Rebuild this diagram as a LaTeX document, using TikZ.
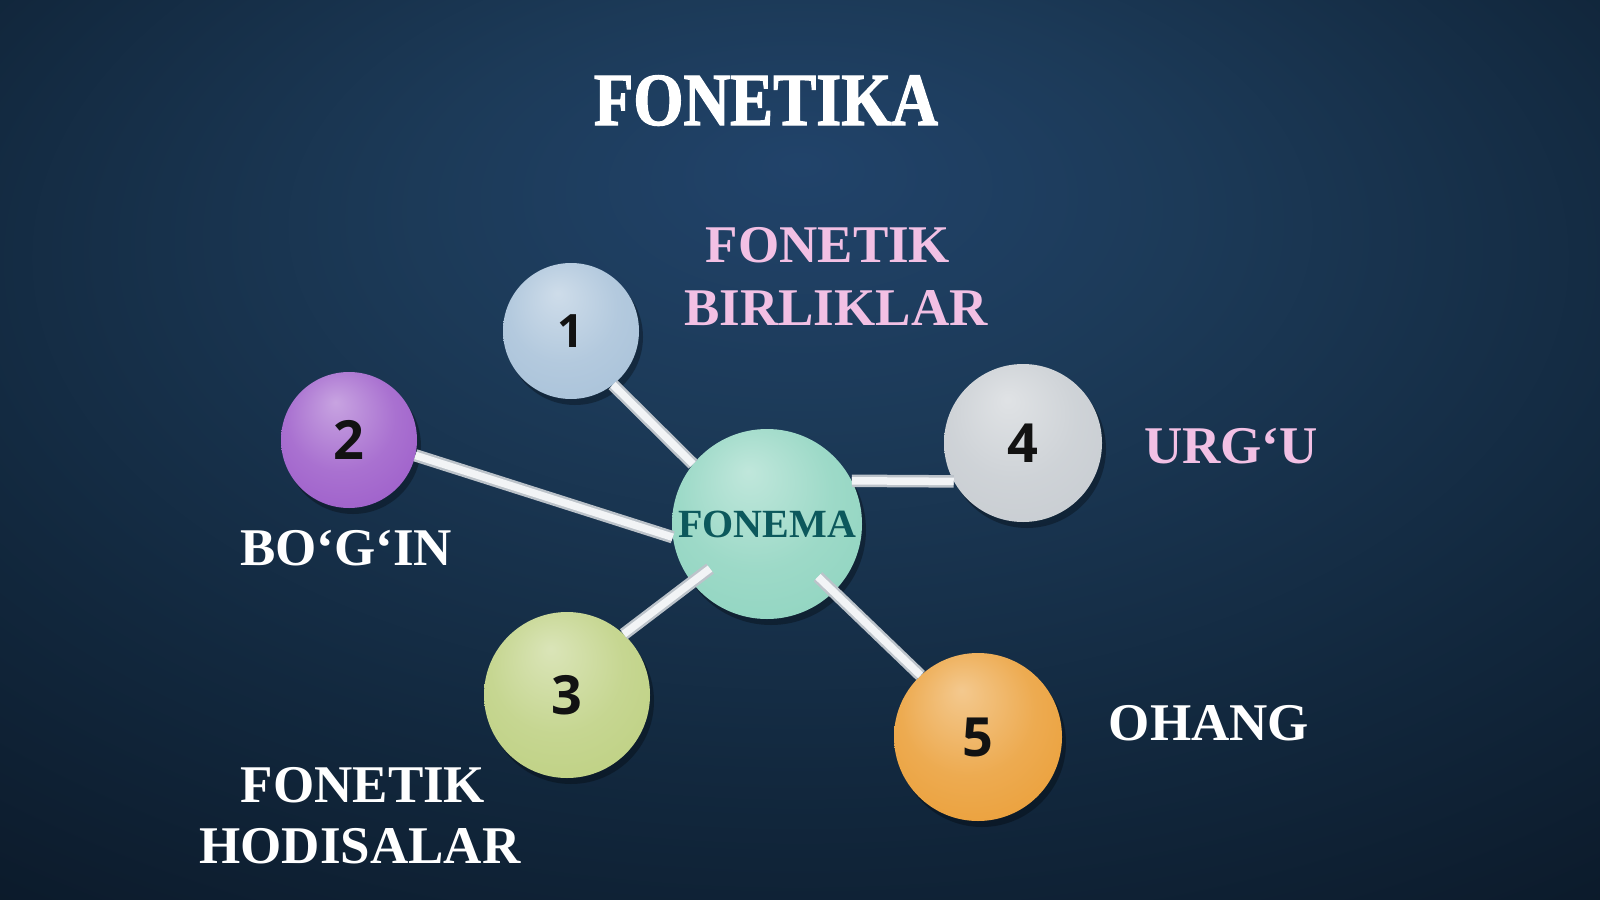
\documentclass[tikz,border=0pt]{standalone}
\usepackage{fontspec}
\setmainfont{Liberation Serif}
\newfontfamily\titlefont[FakeStretch=0.86,FakeBold=1.6]{Liberation Serif Bold}
\newfontfamily\numfont{Open Sans}
\usetikzlibrary{calc,shadows}

\definecolor{bgA}{HTML}{21436A}
\definecolor{bgB}{HTML}{1C3A58}
\definecolor{bgC}{HTML}{12283E}
\definecolor{bgD}{HTML}{0A1726}
\definecolor{bgE}{HTML}{050C14}
\pgfdeclareradialshading{bgsh}{\pgfpoint{0bp}{16bp}}{color(0bp)=(bgA); color(12bp)=(bgB); color(28bp)=(bgC); color(44bp)=(bgD); color(72bp)=(bgE)}

\colorlet{sc}{gray}
\pgfdeclareradialshading[sc]{sphere}{\pgfpoint{-5bp}{14bp}}{color(0bp)=(sc!55!white); color(20bp)=(sc!85!white); color(40bp)=(sc); color(50bp)=(sc!85!black)}

\definecolor{cone}{HTML}{A6C0D8}
\definecolor{ctwo}{HTML}{9A58C8}
\definecolor{cthree}{HTML}{BCCF7E}
\definecolor{cfour}{HTML}{C6CBD0}
\definecolor{cfive}{HTML}{EA9C32}
\definecolor{cfon}{HTML}{8CD3BE}
\definecolor{pinkc}{HTML}{F2C0E4}
\definecolor{fontext}{HTML}{0C585C}
\definecolor{numc}{HTML}{121212}
\definecolor{baredge}{HTML}{BCC3CA}
\definecolor{barmid}{HTML}{F2F4F6}

\begin{document}
\begin{tikzpicture}[x=1pt,y=-1pt,
  sc/.code={\colorlet{sc}{#1}},
  sphere/.style={circle, inner sep=0pt, minimum size=#1, shading=sphere,
    drop shadow={shadow xshift=4pt, shadow yshift=-6pt, opacity=0.3, fill=black}},
  num/.style={font=\numfont\bfseries\fontsize{54}{60}\selectfont, text=numc},
  bar/.style={draw=baredge, double=barmid, double distance=7.5pt, line width=2.5pt},
  lbl/.style={font=\bfseries\fontsize{53}{60}\selectfont, anchor=base, inner sep=0pt},
  pinklbl/.style={lbl, text=pinkc},
  whitelbl/.style={lbl, text=white}]

\shade[shading=bgsh] (0,0) rectangle (1600,899);
\path[use as bounding box] (0,0) rectangle (1600,899);

% title
\node[anchor=base, inner sep=0pt, text=white, font=\titlefont\fontsize{75}{80}\selectfont] (title) at (766,125) {FONETIKA};

% spheres
\node[sc=cfon, sphere=190pt, text=fontext, font=\bfseries\fontsize{40}{44}\selectfont] (fon) at (767,524) {FONEMA};
\node[sc=cone, sphere=136pt, num, font=\numfont\bfseries\fontsize{46}{50}\selectfont] (n1) at (571,331) {1};
\node[sc=ctwo, sphere=136pt, num] (n2) at (349,440) {2};
\node[sc=cthree, sphere=166pt, num] (n3) at (567,695) {3};
\node[sc=cfour, sphere=158pt, num] (n4) at (1023,443) {4};
\node[sc=cfive, sphere=168pt, num] (n5) at (978,737) {5};

% connectors
\coordinate (f3) at ($(fon.center)!0.76!(fon.218)$);
\coordinate (f5) at ($(fon.center)!0.77!(fon.-46)$);
\draw[bar] (n1.-52) -- (fon.141);
\draw[bar] (n2.-13) -- (fon.188);
\draw[bar] (fon.27) -- (n4.209.6);
\draw[bar] (n3.47) -- (f3);
\draw[bar] (f5) -- (n5.133);

% labels
\node[pinklbl] (lb1a) at (828,262) {FONETIK};
\node[pinklbl] (lb1b) at (836,325) {BIRLIKLAR};
\node[whitelbl] (lb2) at (346,565) {BO‘G‘IN};
\node[whitelbl] (lb3a) at (363,802) {FONETIK};
\node[whitelbl] (lb3b) at (360,863) {HODISALAR};
\node[pinklbl] (lb4) at (1231,463) {URG‘U};
\node[whitelbl] (lb5) at (1209,740) {OHANG};
\end{tikzpicture}
\end{document}
